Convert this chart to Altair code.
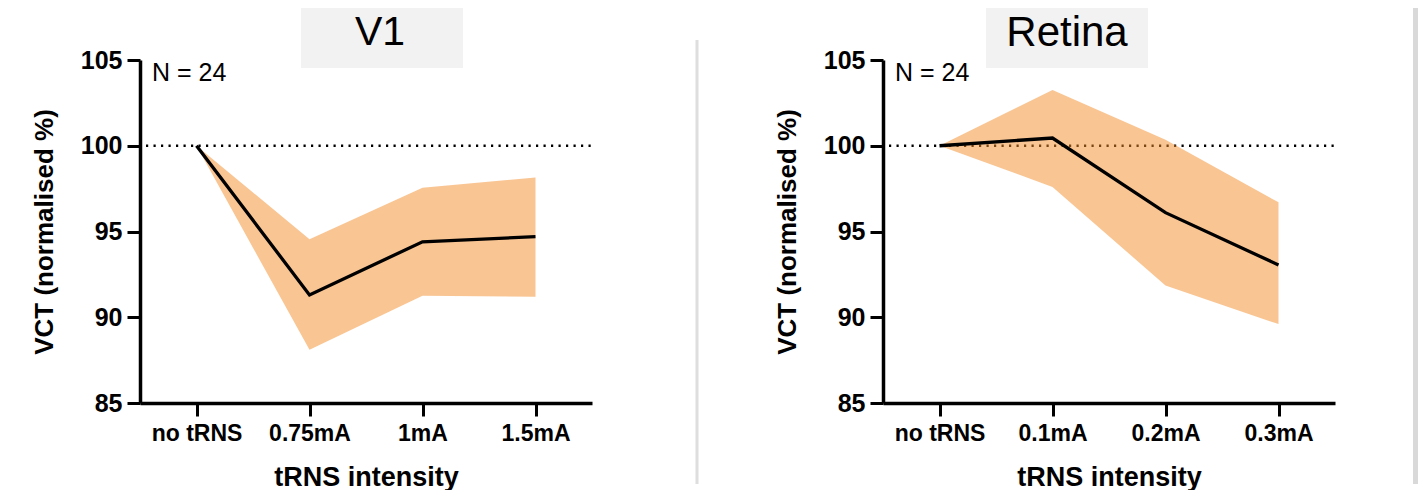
import altair as alt
import pandas as pd

# ---- data ----
v1_cats = ["no tRNS", "0.75mA", "1mA", "1.5mA"]
v1_mean = [100.0, 91.3, 94.4, 94.7]
v1_lo = [100.0, 88.1, 91.25, 91.2]
v1_hi = [100.0, 94.55, 97.55, 98.15]

ret_cats = ["no tRNS", "0.1mA", "0.2mA", "0.3mA"]
ret_mean = [100.0, 100.45, 96.1, 93.05]
ret_lo = [100.0, 97.6, 91.85, 89.6]
ret_hi = [100.0, 103.25, 100.35, 96.7]

y_ticks = [85, 90, 95, 100, 105]
ref_level = [100]
n_label = "N = 24"

W, H = 452, 343
FONT = "Liberation Sans, Arial, Helvetica, sans-serif"
AREA_COLOR = "#f38b27"


def panel(title, cats, mean, lo, hi, box_x, box_x2, title_x, title_size, extra):
    df = pd.DataFrame({"cond": cats, "mean": mean, "lo": lo, "hi": hi})
    one = pd.DataFrame({"a": [0]})

    x_axis = alt.Axis(
        title="tRNS intensity", labelAngle=0, grid=False,
        domainColor="black", domainWidth=3.5, tickColor="black", tickWidth=3,
        tickSize=13, labelFont=FONT, labelFontSize=23, labelFontWeight="bold",
        labelColor="black", labelPadding=6, titleFont=FONT, titleFontSize=27,
        titleFontWeight="bold", titleColor="black", titlePadding=19,
    )
    y_axis = alt.Axis(
        title="VCT (normalised %)", values=y_ticks, grid=False,
        domainColor="black", domainWidth=3.5, tickColor="black", tickWidth=3,
        tickSize=13, labelFont=FONT, labelFontSize=25, labelFontWeight="bold",
        labelColor="black", labelPadding=5, titleFont=FONT, titleFontSize=26,
        titleFontWeight="bold", titleColor="black", titlePadding=23,
    )
    x_enc = alt.X("cond:N", sort=cats, scale=alt.Scale(type="point", padding=0.5), axis=x_axis)
    y_scale = alt.Scale(domain=[85, 105], nice=False, zero=False)

    box = alt.Chart(one).mark_rect(color="#f2f2f2").encode(
        x=alt.value(box_x), x2=alt.value(box_x2), y=alt.value(-52), y2=alt.value(8)
    )
    box_text = alt.Chart(one).mark_text(
        text=title, font=FONT, fontSize=title_size, color="black",
        align="center", baseline="middle"
    ).encode(x=alt.value(title_x), y=alt.value(-27))

    rule = alt.Chart(pd.DataFrame({"y": ref_level})).mark_rule(
        color="black", strokeWidth=2.4, strokeDash=[2.2, 5.3]
    ).encode(y=alt.Y("y:Q", scale=y_scale, axis=y_axis), x=alt.value(6), x2=alt.value(W))

    area = alt.Chart(df).mark_area(color=AREA_COLOR, opacity=0.5).encode(
        x=x_enc, y=alt.Y("lo:Q", scale=y_scale, axis=y_axis), y2="hi:Q"
    )
    line = alt.Chart(df).mark_line(color="black", strokeWidth=3.3).encode(
        x=x_enc, y=alt.Y("mean:Q", scale=y_scale, axis=y_axis)
    )
    ntext = alt.Chart(one).mark_text(
        text=n_label, font=FONT, fontSize=25, color="black",
        align="left", baseline="alphabetic"
    ).encode(x=alt.value(12), y=alt.value(21))

    return alt.layer(box, box_text, rule, area, line, ntext, extra).properties(width=W, height=H)


one_df = pd.DataFrame({"a": [0]})
separator = alt.Chart(one_df).mark_rule(color="#dedede", strokeWidth=3).encode(
    x=alt.value(557), y=alt.value(-20), y2=alt.value(424)
)
edge = alt.Chart(one_df).mark_rect(color="#d9d9d9").encode(
    x=alt.value(530), x2=alt.value(535), y=alt.value(-52), y2=alt.value(424)
)

left = panel("V1", v1_cats, v1_mean, v1_lo, v1_hi, 161, 323, 240, 41, separator)
right = panel("Retina", ret_cats, ret_mean, ret_lo, ret_hi, 103, 265, 184, 42, edge)

chart = alt.hconcat(left, right, spacing=291, bounds="flush").resolve_scale(
    x="independent", y="independent"
).properties(
    padding={"left": 23, "top": 0, "right": 0, "bottom": 0}
).configure_view(stroke=None)

chart.save("out.html", embed_options={"renderer": "svg", "actions": False})
